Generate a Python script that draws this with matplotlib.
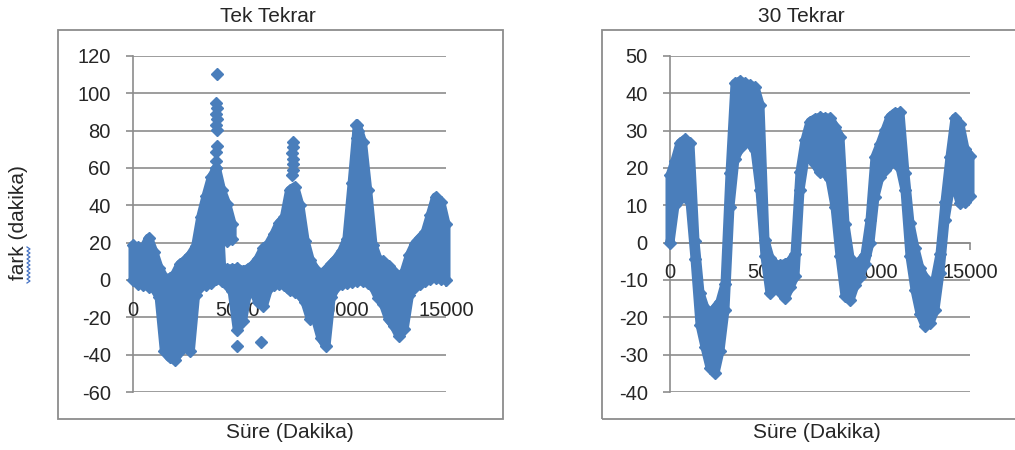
import matplotlib
matplotlib.use("Agg")
import matplotlib.pyplot as plt
from matplotlib.patches import Rectangle
from matplotlib.lines import Line2D

# Süre ekseni (dakika), her 250 dakikada bir okunan değerler
sure = [0, 250, 500, 750, 1000, 1250, 1500, 1750, 2000, 2250,
        2500, 2750, 3000, 3250, 3500, 3750, 4000, 4250, 4500, 4750,
        5000, 5250, 5500, 5750, 6000, 6250, 6500, 6750, 7000, 7250,
        7500, 7750, 8000, 8250, 8500, 8750, 9000, 9250, 9500, 9750,
        10000, 10250, 10500, 10750, 11000, 11250, 11500, 11750, 12000, 12250,
        12500, 12750, 13000, 13250, 13500, 13750, 14000, 14250, 14500, 14750,
        15000]

# Tek Tekrar: nokta bulutunun alt ve üst sınırı
tek_ust = [18.5, 17.5, 17, 22.5, 15, 6.5, 1.3, 1, 3, 8.5,
           10.5, 13.5, 18, 34, 45, 55, 60, 6.5, 6, 6,
           6.3, 5, 6, 8, 11.5, 17, 19.5, 24.5, 30.5, 33.5,
           48, 50, 40, 21, 10.5, 5.5, 3, 5.5, 8.5, 11.5,
           15.5, 22, 52, 83, 74, 48, 19, 11, 10, 7.5,
           4.5, 1.5, 4.5, 13.5, 19.5, 22.5, 25.5, 35, 44.5, 42,
           30]
tek_alt = [0, -2, -2.5, -3.5, -4.5, -9, -38, -41.5, -43, -38,
           -35.5, -38, -8, -3, -2.5, -1.5, 0.5, -0.5, -2.5, -6,
           -27, -22, -6, -6, -12, -14, -4.5, -2.5, -2, -2.5,
           -5.5, -6.5, -8, -12, -21, -21, -31, -35.5, -9, -3.5,
           -2, -1.5, -1, -0.5, -0.5, -1.5, -3.5, -9.5, -13, -21,
           -24.5, -30, -26, -8, -3.5, -2, -0.5, 0.5, 1, 0.5,
           0]
# 4000 civarındaki tepenin ayrık kısmı
tek_blok_x = [4000, 4250, 4500, 4750]
tek_blok_alt = [20, 21, 21, 22]
tek_blok_ust = [60, 48, 40.5, 30]
# tek tek görünen noktalar
tek_ek_x = [4010, 4000, 4020, 3990, 4010, 4000, 4020, 4010, 3990, 4000,
            7650, 7670, 7640, 7660, 7650, 7670, 7640,
            10700, 10780, 10720, 10800, 10740, 10820, 10700, 10850, 10650, 10900,
            4980, 6120]
tek_ek_y = [110.5, 95, 92, 89, 86, 83, 80.5, 72, 68.5, 64,
            74, 71, 68, 65, 62, 59, 56,
            83, 80, 76, 72, 68, 64, 60, 56, 52, 48,
            -35.5, -33]

# 30 Tekrar: nokta bulutunun alt ve üst sınırı
otuz_ust = [18, 22, 26.7, 27.7, 26.6, 0.5, -13.4, -17.5, -19.2, -17.5,
            -15.8, -11, 18.6, 42.7, 43.3, 42.7, 42.2, 41.7, 37, 0.7,
            -4.1, -5.8, -6, -5.6, -5, -3, 19, 27.5, 32.4, 33.2,
            33.6, 33.5, 33.3, 31, 28.4, 5, -4, -5.7, -5, -3.2,
            6, 23, 26.4, 30.1, 33.7, 34.8, 34.9, 18.6, 5.2, -1.5,
            -6.9, -9.5, -11.2, -10, -3, 11, 23, 33.4, 31.7, 25.1,
            23.3]
otuz_alt = [0, 10, 11.8, 12.7, 11, -4.4, -22, -28, -33.5, -35,
            -29, -18, 9.6, 22.5, 25.3, 27, 26.5, 24.8, 14, -3.7,
            -13.6, -12.2, -13.1, -14.9, -12, -9, 14, 22.7, 22.7, 21,
            18.8, 18.7, 17, 9.6, -3.7, -14.3, -15.4, -11.4, -9.1, -5.6,
            0, 12.3, 17.7, 19.4, 21, 21.8, 20.1, 14, -3.7, -12.7,
            -19, -22.3, -21.5, -18, -8, 6, 14.1, 15.8, 10.5, 10.9,
            12.6]

MAVI = '#4A7EBB'
GRI = '#8c8c8c'
YAZI = '#262626'

plt.rcParams['font.family'] = ['Liberation Sans', 'DejaVu Sans']
plt.rcParams['axes.unicode_minus'] = False


def bulut(ax, x, alt, ust):
    # tek parça çokgen (kalın kenar, işaret boyu kadar taşar) + kenarlarda elmas işaretler
    px = list(x) + list(x)[::-1]
    py = list(ust) + list(alt)[::-1]
    ax.fill(px, py, facecolor=MAVI, edgecolor=MAVI, lw=6.5, joinstyle='round',
            zorder=2, clip_on=False)
    for y in (alt, ust):
        ax.plot(x, y, ls='none', marker='D', ms=6.6, color=MAVI,
                mec=MAVI, clip_on=False, zorder=2)


def eksen_ayarla(ax, ymin, ymax, ystep):
    ax.set_xlim(0, 15000)
    ax.set_ylim(ymin, ymax)
    ax.set_yticks(range(ymin, ymax + 1, ystep))
    ax.set_xticks([0, 5000, 10000, 15000])
    ax.spines['top'].set_visible(False)
    ax.spines['right'].set_visible(False)
    ax.spines['bottom'].set_position(('data', 0))
    for s in ('left', 'bottom'):
        ax.spines[s].set_color(GRI)
        ax.spines[s].set_linewidth(1.2)
        ax.spines[s].set_zorder(1.5)
    # yatay kılavuz çizgileri, verinin altında
    for t in range(ymin, ymax + 1, ystep):
        ax.axhline(t, color=GRI, lw=1.2, zorder=1)
    ax.tick_params(axis='y', direction='out', length=5, width=1.2, color=GRI,
                   pad=11, labelsize=14.5, labelcolor=YAZI)
    ax.tick_params(axis='x', direction='out', length=5, width=1.2, color=GRI,
                   pad=10, labelsize=14.5, labelcolor=YAZI)
    ax.patch.set_alpha(0)


fig = plt.figure(figsize=(10.15, 4.5), dpi=100)
W, H = 1015.0, 450.0

# grafik çerçeveleri
fig.add_artist(Rectangle((58 / W, 1 - 419 / H), (503 - 58) / W, (419 - 30) / H,
                         transform=fig.transFigure, fill=False, ec=GRI, lw=1.3))
fig.add_artist(Rectangle((602 / W, 1 - 419 / H), (1030 - 602) / W, (419 - 30) / H,
                         transform=fig.transFigure, fill=False, ec=GRI, lw=1.3))

ax1 = fig.add_axes([133 / W, 1 - 392 / H, 313 / W, 336 / H])
eksen_ayarla(ax1, -60, 120, 20)
bulut(ax1, sure, tek_alt, tek_ust)
bulut(ax1, tek_blok_x, tek_blok_alt, tek_blok_ust)
ax1.plot(tek_ek_x, tek_ek_y, ls='none', marker='D', ms=6.6, color=MAVI,
         clip_on=False, zorder=2)

ax2 = fig.add_axes([670 / W, 1 - 392 / H, 300 / W, 336 / H])
eksen_ayarla(ax2, -40, 50, 10)
bulut(ax2, sure, otuz_alt, otuz_ust)

# başlıklar ve eksen yazıları
fig.text(268 / W, 1 - 16 / H, 'Tek Tekrar', ha='center', va='center', fontsize=15, color=YAZI)
fig.text(801 / W, 1 - 16 / H, '30 Tekrar', ha='center', va='center', fontsize=15, color=YAZI)
fig.text(290 / W, 1 - 433 / H, 'Süre (Dakika)', ha='center', va='center', fontsize=15, color=YAZI)
fig.text(817 / W, 1 - 433 / H, 'Süre (Dakika)', ha='center', va='center', fontsize=15, color=YAZI)
fig.text(19 / W, 1 - 223 / H, 'fark (dakika)', ha='center', va='center', rotation=90,
         fontsize=15, color=YAZI)

# "fark" altındaki yazım denetimi dalgası (ekran görüntüsündeki gibi)
dalga_y = [247 + 2 * i for i in range(19)]
dalga_x = [27 if i % 2 == 0 else 30 for i in range(19)]
fig.add_artist(Line2D([v / W for v in dalga_x], [1 - v / H for v in dalga_y],
                      transform=fig.transFigure, color='#4472C4', lw=0.9))

fig.savefig('out.png', dpi=100)
plt.close(fig)
